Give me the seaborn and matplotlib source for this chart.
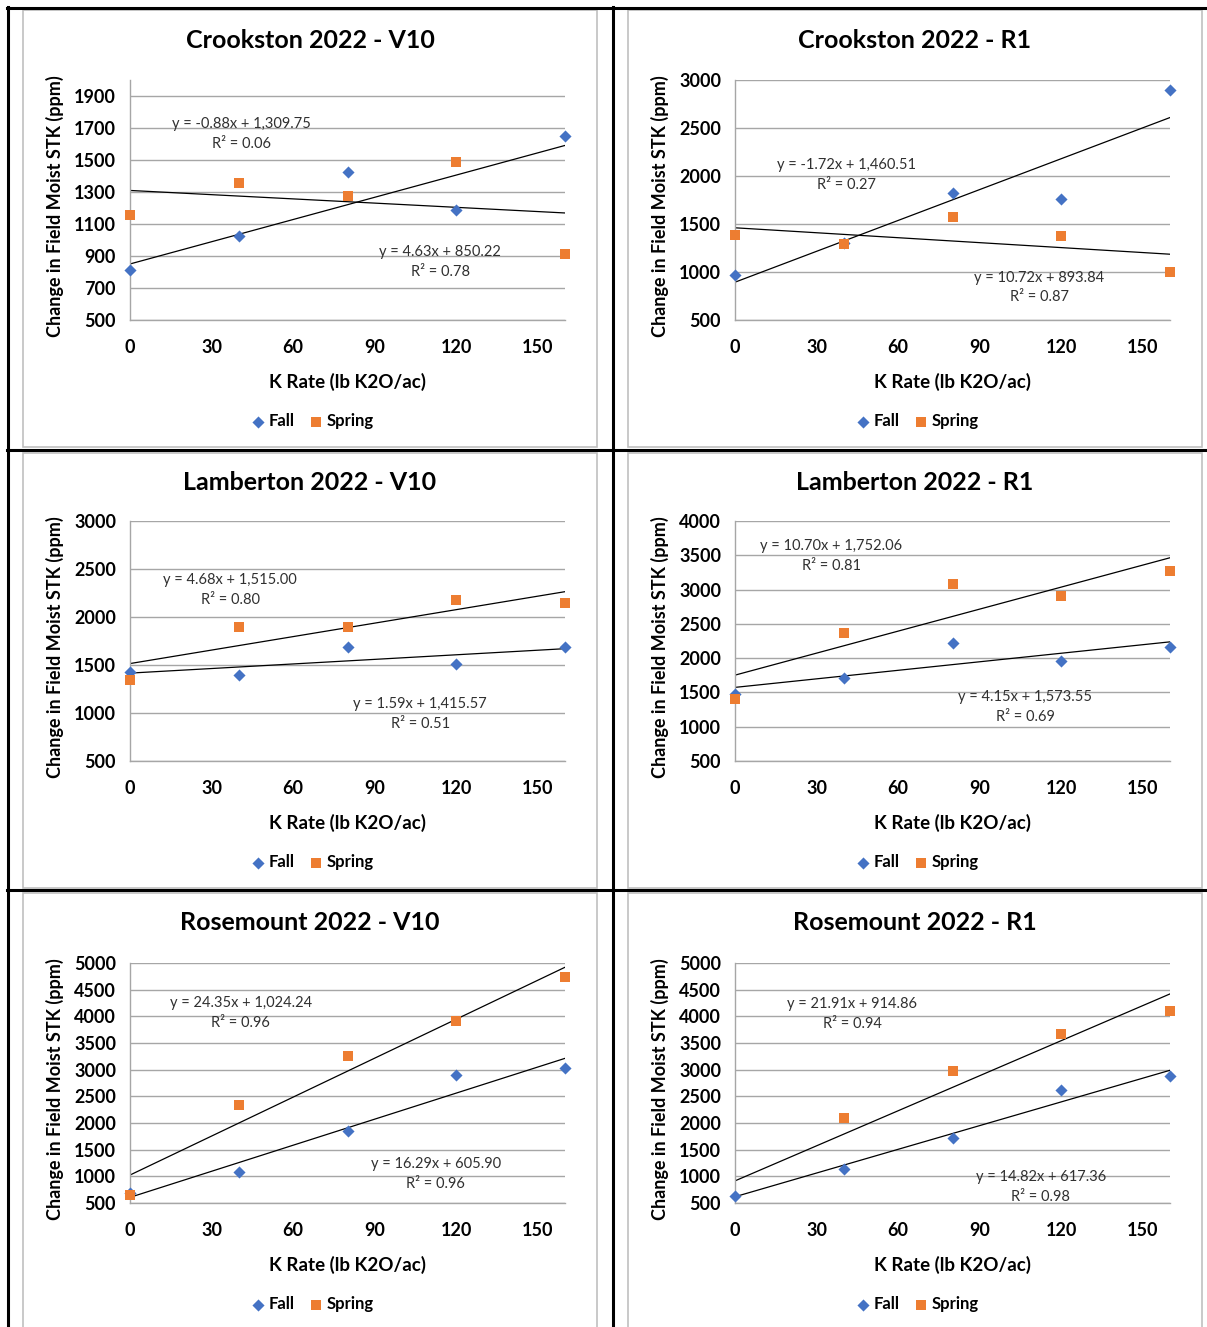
import numpy as np
import pandas as pd
import matplotlib
matplotlib.use("Agg")
import matplotlib.pyplot as plt
from matplotlib import font_manager as fm
from matplotlib.font_manager import FontProperties
from matplotlib.lines import Line2D
from matplotlib.patches import Rectangle
import seaborn as sns

# ---- data -------------------------------------------------------------
k_rate = [0, 40, 80, 120, 160]

titles = [
    "Crookston 2022 - V10", "Crookston 2022 - R1",
    "Lamberton 2022 - V10", "Lamberton 2022 - R1",
    "Rosemount 2022 - V10", "Rosemount 2022 - R1",
]

fall_crookston_v10 = [810, 1023, 1426, 1188, 1651]
spring_crookston_v10 = [1157, 1356, 1277, 1489, 913]
fall_crookston_r1 = [972, 1306, 1819, 1764, 2896]
spring_crookston_r1 = [1382, 1295, 1573, 1371, 1003]
fall_lamberton_v10 = [1427, 1396, 1691, 1510, 1688]
spring_lamberton_v10 = [1347, 1896, 1892, 2173, 2146]
fall_lamberton_r1 = [1482, 1710, 2216, 1963, 2167]
spring_lamberton_r1 = [1404, 2371, 3086, 2906, 3276]
fall_rosemount_v10 = [690, 1075, 1856, 2906, 3037]
spring_rosemount_v10 = [656, 2337, 3256, 3906, 4744]
fall_rosemount_r1 = [637, 1144, 1712, 2612, 2875]
spring_rosemount_r1 = [480, 2100, 2969, 3675, 4094]

fall_values = [fall_crookston_v10, fall_crookston_r1, fall_lamberton_v10,
               fall_lamberton_r1, fall_rosemount_v10, fall_rosemount_r1]
spring_values = [spring_crookston_v10, spring_crookston_r1, spring_lamberton_v10,
                 spring_lamberton_r1, spring_rosemount_v10, spring_rosemount_r1]

# linear trendlines (slope, intercept, R²)
fall_slope = [4.63, 10.72, 1.59, 4.15, 16.29, 14.82]
fall_intercept = [850.22, 893.84, 1415.57, 1573.55, 605.90, 617.36]
fall_r2 = [0.78, 0.87, 0.51, 0.69, 0.96, 0.98]
spring_slope = [-0.88, -1.72, 4.68, 10.70, 24.35, 21.91]
spring_intercept = [1309.75, 1460.51, 1515.00, 1752.06, 1024.24, 914.86]
spring_r2 = [0.06, 0.27, 0.80, 0.81, 0.96, 0.94]

# y-axis: (min, max, step)
y_axes = [(500, 2000, 200), (500, 3000, 500), (500, 3000, 500),
          (500, 4000, 500), (500, 5000, 500), (500, 5000, 500)]
x_ticks = [0, 30, 60, 90, 120, 150]

# ---- fonts ------------------------------------------------------------
plt.rcParams["font.family"] = "Lato"


def font_file(name):
    for f in fm.fontManager.ttflist:
        if f.fname.endswith(name):
            return f.fname
    return None


BOLD_PATH = font_file("Lato-Bold.ttf")
REG_PATH = font_file("Lato-Regular.ttf")


def bold(size):
    if BOLD_PATH:
        return FontProperties(fname=BOLD_PATH, size=size)
    return FontProperties(family="Lato", weight="bold", size=size)


def regular(size):
    if REG_PATH:
        return FontProperties(fname=REG_PATH, size=size)
    return FontProperties(family="Lato", size=size)


# ---- layout (pixels) --------------------------------------------------
W, H = 1207, 1327
fig = plt.figure(figsize=(W / 100, H / 100), dpi=100)
fig.patch.set_facecolor("white")


def fx(px):
    return px / W


def fy(py):
    return 1 - py / H


col_plot_x = [130, 735]
col_area = [(23, 597), (628, 1202)]
row_plot_y = [(80, 320), (521, 761), (963, 1203)]
row_area = [(10, 447), (453, 888), (893, 1340)]
title_y = [41, 482, 923]
legend_y = [421, 862, 1304]
plot_w = 435

# spring-equation / fall-equation label centres (axes fraction)
spring_lab = [(0.257, 0.775), (0.257, 0.604), (0.23, 0.7125),
              (0.221, 0.854), (0.255, 0.792), (0.269, 0.7875)]
fall_lab = [(0.713, 0.242), (0.699, 0.135), (0.667, 0.196),
            (0.667, 0.225), (0.703, 0.121), (0.703, 0.067)]

FALL_C = "#4472C4"
SPRING_C = "#ED7D31"
GRID_C = "#a6a6a6"


def eq_text(m, b, r2):
    return f"y = {m:.2f}x + {b:,.2f}\nR\u00b2 = {r2:.2f}"


for i in range(6):
    r, c = divmod(i, 2)
    x0 = col_plot_x[c]
    yt, yb = row_plot_y[r]
    ax = fig.add_axes([fx(x0), fy(yb), plot_w / W, (yb - yt) / H])
    ax.set_facecolor("white")

    # chart-area frame
    ax_l, ax_r = col_area[c]
    ar_t, ar_b = row_area[r]
    fig.add_artist(Rectangle((fx(ax_l), fy(ar_b)), (ax_r - ax_l) / W, (ar_b - ar_t) / H,
                             transform=fig.transFigure, fill=False,
                             edgecolor="#c0c0c0", linewidth=1.2, zorder=0))

    ymin, ymax, ystep = y_axes[i]
    df = pd.DataFrame({"k": k_rate * 2,
                       "stk": fall_values[i] + spring_values[i],
                       "series": ["Fall"] * 5 + ["Spring"] * 5})
    df = df[(df["stk"] >= ymin) & (df["stk"] <= ymax)]

    # trendlines
    xs = np.array([0, 160])
    ax.plot(xs, fall_slope[i] * xs + fall_intercept[i], color="black", lw=0.9, zorder=2)
    ax.plot(xs, spring_slope[i] * xs + spring_intercept[i], color="black", lw=0.9, zorder=2)

    sns.scatterplot(data=df[df["series"] == "Fall"], x="k", y="stk", ax=ax,
                    marker="D", s=38, color=FALL_C, linewidth=0, label="Fall",
                    zorder=3, clip_on=False)
    sns.scatterplot(data=df[df["series"] == "Spring"], x="k", y="stk", ax=ax,
                    marker="s", s=62, color=SPRING_C, linewidth=0, label="Spring",
                    zorder=4, clip_on=False)

    ax.set_xlim(0, 160)
    ax.set_ylim(ymin, ymax)
    yticks = list(range(ymin, ymax + 1, ystep))
    ax.set_xticks(x_ticks, labels=[str(v) for v in x_ticks], fontproperties=bold(13))
    ax.set_yticks(yticks, labels=[str(v) for v in yticks], fontproperties=bold(13))
    ax.yaxis.grid(True, color=GRID_C, linewidth=1.0, linestyle="-")
    ax.xaxis.grid(False)
    ax.set_axisbelow(True)
    for side in ("top", "right"):
        ax.spines[side].set_visible(False)
    for side in ("left", "bottom"):
        ax.spines[side].set_color(GRID_C)
        ax.spines[side].set_linewidth(1.0)
    ax.tick_params(axis="both", length=0, colors="black")
    ax.tick_params(axis="x", pad=14)
    ax.tick_params(axis="y", pad=10)
    ax.set_xlabel("K Rate (lb K2O/ac)", fontproperties=bold(13.5), labelpad=12, color="black")
    ax.set_ylabel("Change in Field Moist STK (ppm)", fontproperties=bold(13), color="black")
    ax.yaxis.set_label_coords(-66 / plot_w, 0.475)

    sx, sy = spring_lab[i]
    ax.text(sx, sy, eq_text(spring_slope[i], spring_intercept[i], spring_r2[i]),
            transform=ax.transAxes, ha="center", va="center", multialignment="center",
            fontproperties=regular(10.5), color="#303030", linespacing=1.5)
    fx_, fy_ = fall_lab[i]
    ax.text(fx_, fy_, eq_text(fall_slope[i], fall_intercept[i], fall_r2[i]),
            transform=ax.transAxes, ha="center", va="center", multialignment="center",
            fontproperties=regular(10.5), color="#303030", linespacing=1.5)

    cx = (ax_l + ax_r) / 2
    fig.text(fx(cx), fy(title_y[r]), titles[i], ha="center", va="center",
             fontproperties=bold(18), color="black")

    ax.legend(loc="center", bbox_to_anchor=(fx(cx + 3), fy(legend_y[r])),
              bbox_transform=fig.transFigure, ncol=2, frameon=False,
              prop=bold(12), handlelength=0.7,
              handletextpad=0.3, columnspacing=0.9, borderpad=0)

# table rules
lw = 2.2
for y in (8, 450, 890):
    fig.add_artist(Line2D([fx(7), 1.0], [fy(y), fy(y)], color="black", lw=lw,
                          transform=fig.transFigure))
for x in (8, 612.5):
    fig.add_artist(Line2D([fx(x), fx(x)], [fy(7), 0.0], color="black", lw=lw,
                          transform=fig.transFigure))

fig.savefig("out.png", dpi=100, facecolor="white")
